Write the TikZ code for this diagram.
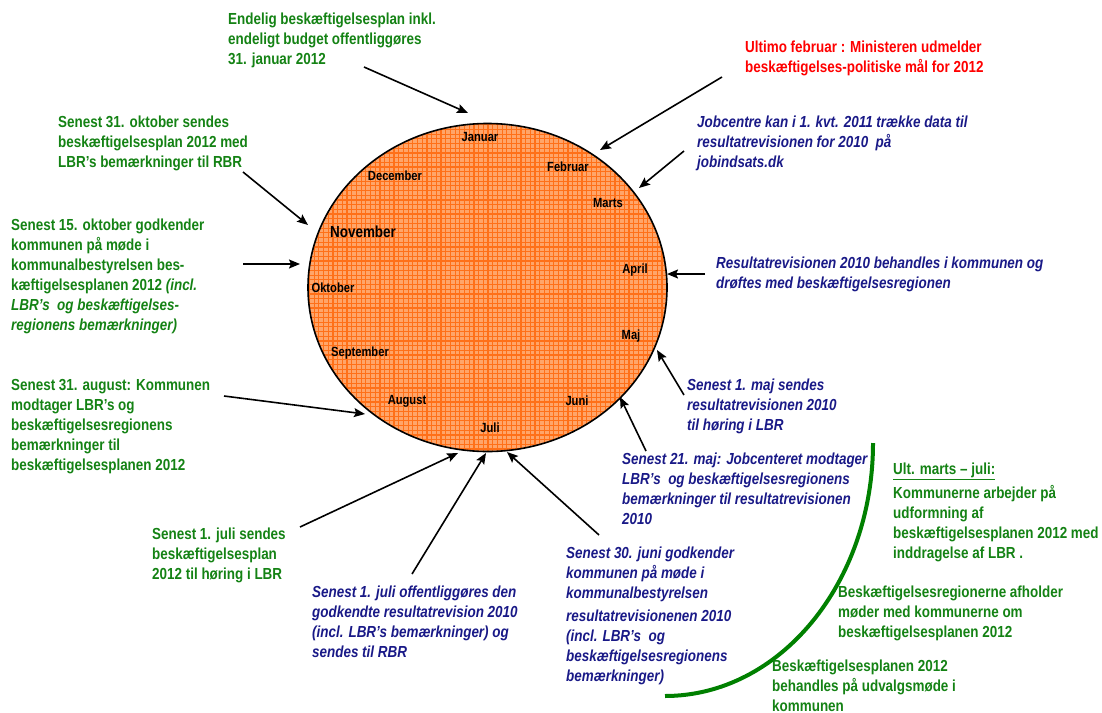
\documentclass[tikz,border=0pt]{standalone}
\usepackage{fontspec}
\setmainfont{Liberation Sans}[FakeStretch=0.84]
\usetikzlibrary{arrows.meta}
\definecolor{gtxt}{RGB}{20,130,20}
\definecolor{btxt}{RGB}{25,25,135}
\definecolor{rtxt}{RGB}{255,0,0}
\definecolor{orfill}{RGB}{255,165,105}
\definecolor{orgrid}{RGB}{255,112,24}
\definecolor{arcg}{RGB}{0,128,0}
\begin{document}
\begin{tikzpicture}[x=1pt,y=-1pt,
  txt/.style={anchor=north west, align=left, inner sep=0pt, font=\fontsize{16}{20}\selectfont\bfseries},
  gnote/.style={txt, text=gtxt},
  bnote/.style={txt, text=btxt, font=\fontsize{16}{20}\selectfont\bfseries\itshape},
  rnote/.style={txt, text=rtxt},
  month/.style={font=\fontsize{13.3}{15}\selectfont\bfseries, inner sep=0pt, text=black},
  arr/.style={-{Stealth[length=11pt,width=9pt,inset=2pt]}, line width=1.6pt, draw=black}]
\useasboundingbox (0,0) rectangle (1102,712);

% orange ellipse with grid
\begin{scope}
  \clip (487.5,287.5) ellipse [x radius=179.5, y radius=164];
  \fill[orfill] (300,120) rectangle (670,455);
  \foreach \i in {0,...,80} {
    \draw[orgrid, line width=1.2pt] (300+4.7*\i,120) -- (300+4.7*\i,455);
  }
  \foreach \j in {0,...,72} {
    \draw[orgrid, line width=1.2pt] (300,120+4.7*\j) -- (670,120+4.7*\j);
  }
\end{scope}
\draw[line width=1.6pt] (487.5,287.5) ellipse [x radius=179.5, y radius=164];

% months
\node[month] (jan) at (480,137) {Januar};
\node[month] (feb) at (568,167) {Februar};
\node[month] (mar) at (608,203) {Marts};
\node[month] (apr) at (635,270) {April};
\node[month] (maj) at (631,336) {Maj};
\node[month] (jun) at (577,401) {Juni};
\node[month] (jul) at (490,428) {Juli};
\node[month] (aug) at (407,401) {August};
\node[month] (sep) at (360,353) {September};
\node[month] (okt) at (333,288) {Oktober};
\node[month, font=\fontsize{16}{18}\selectfont\bfseries] (nov) at (363,232) {November};
\node[month] (dec) at (395,176) {December};

% green arc
\draw[arcg, line width=4pt] (873,443) arc[start angle=0, end angle=90, x radius=208, y radius=253];

% notes
\node[gnote] (endelig) at (228,13) {Endelig beskæftigelsesplan inkl.\\endeligt budget offentliggøres\\31. januar 2012};
\node[rnote] (ultimo) at (745,41) {Ultimo februar : Ministeren udmelder\\beskæftigelses-politiske mål for 2012};
\node[bnote] (jobc) at (697,116) {Jobcentre kan i 1. kvt. 2011 trække data til\\resultatrevisionen for 2010\ \ på\\jobindsats.dk};
\node[bnote] (resrev) at (716,257) {Resultatrevisionen 2010 behandles i kommunen og\\drøftes med beskæftigelsesregionen};
\node[bnote] (maj1) at (687,379) {Senest 1. maj sendes\\resultatrevisionen 2010\\til høring i LBR};
\node[bnote] (maj21) at (622,453) {Senest 21. maj: Jobcenteret modtager\\LBR’s\ \ og beskæftigelsesregionens\\bemærkninger til resultatrevisionen\\2010};
\node[gnote] (ult) at (893,463) {\underline{Ult. marts – juli:}\\[4pt]Kommunerne arbejder på\\udformning af\\beskæftigelsesplanen 2012 med\\inddragelse af LBR .};
\node[gnote] (regioner) at (838,586) {Beskæftigelsesregionerne afholder\\møder med kommunerne om\\beskæftigelsesplanen 2012};
\node[gnote] (udvalg) at (772,660) {Beskæftigelsesplanen 2012\\behandles på udvalgsmøde i\\kommunen};
\node[bnote] (juni30) at (566,547) {Senest 30. juni godkender\\kommunen på møde i\\kommunalbestyrelsen\\[3pt]resultatrevisionenen 2010\\(incl. LBR’s\ \ og\\beskæftigelsesregionens\\bemærkninger)};
\node[bnote] (juli1off) at (312,586) {Senest 1. juli offentliggøres den\\godkendte resultatrevision 2010\\(incl. LBR’s bemærkninger) og\\sendes til RBR};
\node[gnote] (juli1) at (152,528) {Senest 1. juli sendes\\beskæftigelsesplan\\2012 til høring i LBR};
\node[gnote] (aug31) at (11,379) {Senest 31. august: Kommunen\\modtager LBR’s og\\beskæftigelsesregionens\\bemærkninger til\\beskæftigelsesplanen 2012};
\node[gnote] (okt15) at (11,219) {Senest 15. oktober godkender\\kommunen på møde i\\kommunalbestyrelsen bes-\\kæftigelsesplanen 2012 \textit{(incl.}\\\textit{LBR’s\ \ og beskæftigelses-}\\\textit{regionens bemærkninger)}};
\node[gnote] (okt31) at (58,116) {Senest 31. oktober sendes\\beskæftigelsesplan 2012 med\\LBR’s bemærkninger til RBR};

% arrow coordinates
\coordinate (s1) at (364,67);  \coordinate (e1) at (468,113);
\coordinate (s2) at (722,77);  \coordinate (e2) at (600,150);
\coordinate (s3) at (684,151); \coordinate (e3) at (639,188);
\coordinate (s4) at (705,274); \coordinate (e4) at (667,274);
\coordinate (s5) at (684,395); \coordinate (e5) at (657,350);
\coordinate (s6) at (646,451); \coordinate (e6) at (620,397);
\coordinate (s7) at (599,535); \coordinate (e7) at (507,452);
\coordinate (s8) at (412,574); \coordinate (e8) at (486,453);
\coordinate (s9) at (300,527); \coordinate (e9) at (458,453);
\coordinate (s10) at (224,396); \coordinate (e10) at (365,414);
\coordinate (s11) at (243,264); \coordinate (e11) at (300,264);
\coordinate (s12) at (243,172); \coordinate (e12) at (308,225);

\foreach \k in {1,...,12} {\draw[arr] (s\k) -- (e\k);}
\end{tikzpicture}
\end{document}
